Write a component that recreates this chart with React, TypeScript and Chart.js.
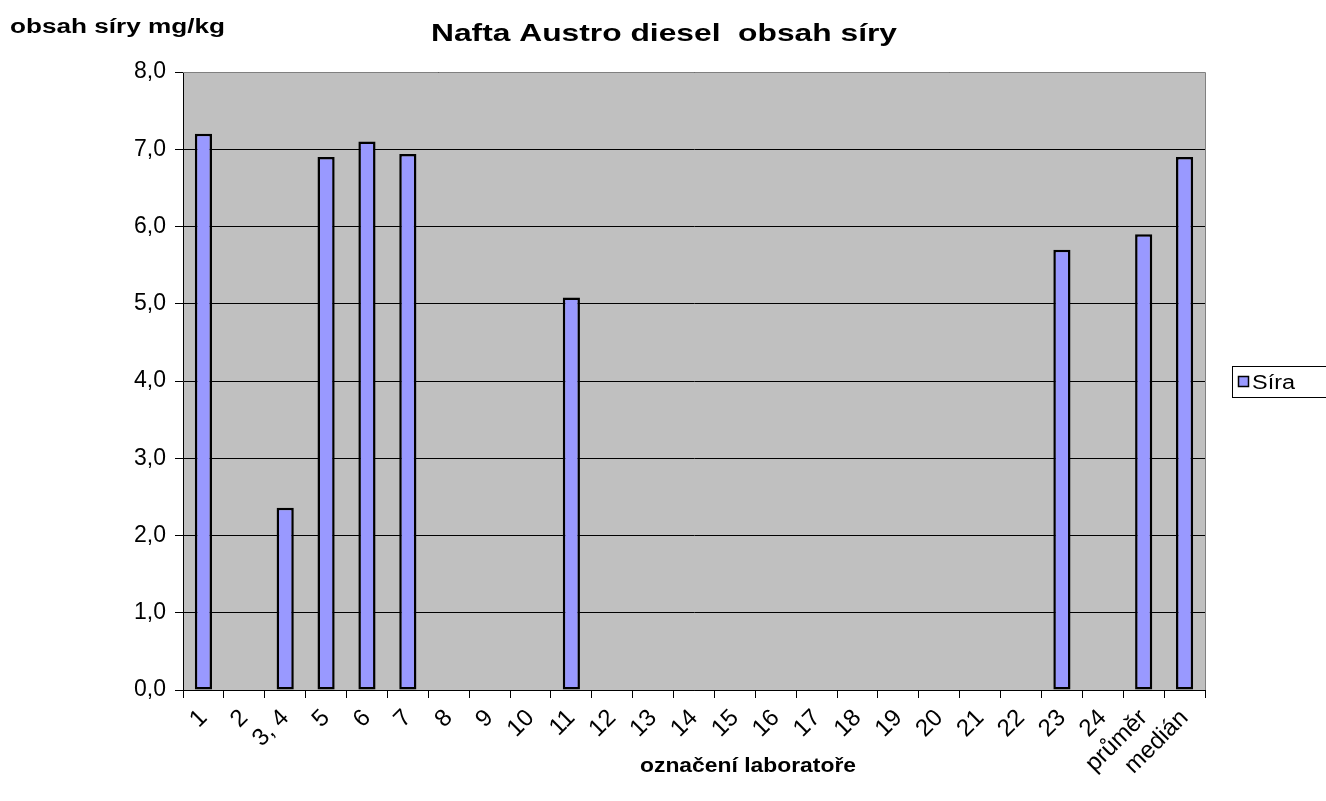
import React, { useEffect, useRef } from "react";
import { Chart, registerables } from "chart.js";

Chart.register(...registerables);

const categories: string[] = [
  "1", "2", "3, 4", "5", "6", "7", "8", "9", "10", "11", "12", "13", "14", "15",
  "16", "17", "18", "19", "20", "21", "22", "23", "24", "průměr", "medián",
];
const siraValues: (number | null)[] = [
  7.2, null, 2.36, 6.9, 7.1, 6.94, null, null, null, 5.08, null, null, null, null,
  null, null, null, null, null, null, null, 5.7, null, 5.9, 6.9,
];
const seriesName = "Síra";
const chartTitle = "Nafta Austro diesel  obsah síry";
const yTitle = "obsah síry mg/kg";
const xTitle = "označení laboratoře";

const FONT = "'Liberation Sans', Arial, sans-serif";

function stretchText(ctx: any, text: string, x: number, y: number, font: string, targetW: number, align: "left" | "center") {
  ctx.save();
  ctx.font = font;
  ctx.textBaseline = "alphabetic";
  ctx.textAlign = "left";
  const w = ctx.measureText(text).width;
  const sx = targetW / w;
  const left = align === "center" ? x - targetW / 2 : x;
  ctx.translate(left, y);
  ctx.scale(sx, 1);
  ctx.fillText(text, 0, 0);
  ctx.restore();
}

const decorPlugin = {
  id: "decor",
  beforeDraw(chart: any) {
    const { ctx, chartArea } = chart;
    ctx.save();
    ctx.fillStyle = "#ffffff";
    ctx.fillRect(0, 0, chart.width, chart.height);
    ctx.fillStyle = "#C0C0C0";
    ctx.fillRect(chartArea.left, chartArea.top, chartArea.right - chartArea.left, chartArea.bottom - chartArea.top);
    ctx.restore();
  },
  afterDraw(chart: any) {
    const { ctx, chartArea } = chart;
    ctx.save();
    ctx.strokeStyle = "#808080";
    ctx.lineWidth = 1;
    ctx.beginPath();
    ctx.moveTo(chartArea.left, chartArea.top + 0.5);
    ctx.lineTo(chartArea.right + 0.5, chartArea.top + 0.5);
    ctx.lineTo(chartArea.right + 0.5, chartArea.bottom);
    ctx.stroke();

    ctx.fillStyle = "#000";
    stretchText(ctx, chartTitle, 664, 41, `bold 24px ${FONT}`, 466, "center");
    stretchText(ctx, yTitle, 10, 33, `bold 20px ${FONT}`, 215, "left");
    stretchText(ctx, xTitle, 748, 772, `bold 20px ${FONT}`, 216, "center");

    // legend
    ctx.fillStyle = "#fff";
    ctx.fillRect(1232, 366, 100, 31);
    ctx.strokeStyle = "#000";
    ctx.lineWidth = 1;
    ctx.strokeRect(1232.5, 366.5, 100, 31);
    ctx.fillStyle = "#9999FF";
    ctx.fillRect(1238, 376, 11, 11);
    ctx.strokeStyle = "#000";
    ctx.lineWidth = 1.5;
    ctx.strokeRect(1238.5, 376.5, 10, 10);
    ctx.fillStyle = "#000";
    stretchText(ctx, seriesName, 1252, 389, `20px ${FONT}`, 43, "left");
    ctx.restore();
  },
};

export default function App() {
  const ref = useRef<HTMLCanvasElement>(null);
  useEffect(() => {
    document.body.style.margin = "0";
    const chart = new Chart(ref.current!, {
      type: "bar",
      data: {
        labels: categories,
        datasets: [
          {
            label: seriesName,
            data: siraValues as any,
            backgroundColor: "#9999FF",
            borderColor: "#000000",
            borderWidth: 2.5,
            borderSkipped: false,
            barPercentage: 0.42,
            categoryPercentage: 1,
          },
        ],
      },
      options: {
        animation: false,
        responsive: false,
        maintainAspectRatio: false,
        layout: { padding: { top: 72, right: 121, left: 0, bottom: 0 } },
        plugins: {
          legend: { display: false },
          title: { display: false },
          tooltip: { enabled: false },
        },
        scales: {
          x: {
            offset: true,
            grid: {
              offset: true,
              drawOnChartArea: false,
              color: "#000",
              tickLength: 8,
              tickColor: "#000",
            },
            border: { color: "#000", width: 1 },
            ticks: {
              color: "#000",
              font: { family: FONT, size: 24 },
              minRotation: 45,
              maxRotation: 45,
              autoSkip: false,
              padding: 6,
            },
            afterFit(scale: any) {
              scale.height = 111;
            },
          },
          y: {
            min: 0,
            max: 8,
            ticks: {
              stepSize: 1,
              color: "#000",
              font: { family: FONT, size: 23 },
              padding: 9,
              callback: (v: any) => Number(v).toFixed(1).replace(".", ","),
            },
            grid: {
              color: "#000",
              tickLength: 8,
              tickColor: "#000",
            },
            border: { color: "#000", width: 1 },
            afterFit(scale: any) {
              scale.width = 183;
            },
          },
        },
      },
      plugins: [decorPlugin],
    });
    return () => chart.destroy();
  }, []);
  return <canvas ref={ref} width={1326} height={801} style={{ display: "block" }} />;
}
